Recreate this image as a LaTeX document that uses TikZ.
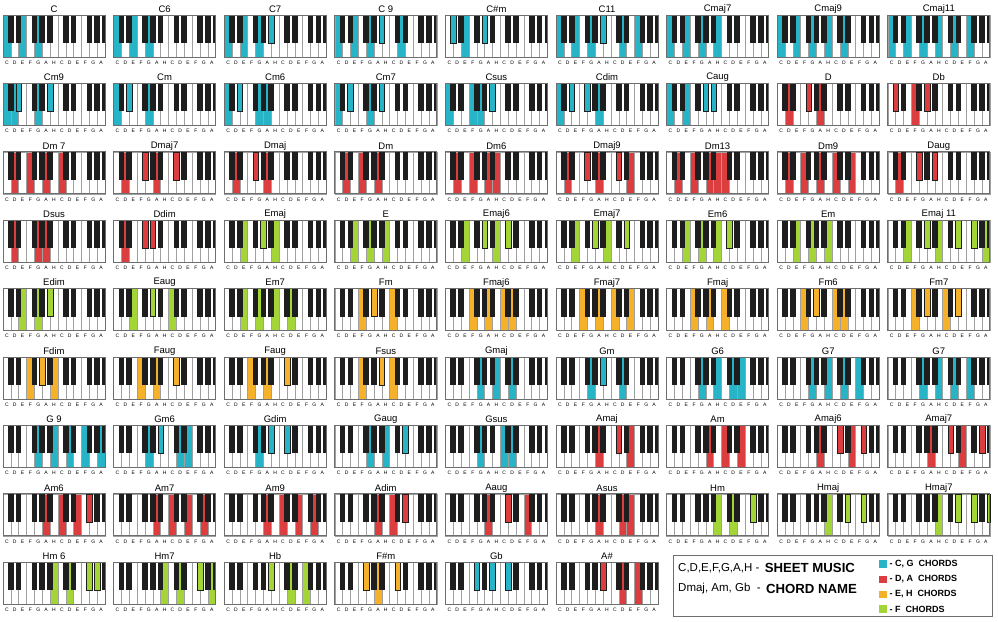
\documentclass[tikz,border=0pt]{standalone}
\usepackage{fontspec}
\setmainfont{Liberation Sans}
\usetikzlibrary{positioning}
\definecolor{keyteal}{HTML}{27B4C6}
\definecolor{keyred}{HTML}{DC3D3F}
\definecolor{keyorange}{HTML}{F6B12B}
\definecolor{keygreen}{HTML}{A3D536}
\definecolor{keyblack}{HTML}{1E1E1E}
\definecolor{keyline}{HTML}{A0A0A0}
\definecolor{frameline}{HTML}{6E6E6E}
\newcommand{\keyw}{7.846}
\tikzset{
  whitekey/.style={
    draw=keyline,
    line width=0.5pt,
    fill=white
  },
  blackkey/.style={
    fill=keyblack
  },
  litblack/.style={
    draw=keyblack,
    line width=0.4pt
  },
  keyframe/.style={
    draw=frameline,
    line width=0.7pt
  },
  chordname/.style={
    font=\fontsize{9.5}{10}\selectfont,
    inner sep=0pt
  },
  keyletter/.style={
    font=\fontsize{5}{6}\selectfont,
    inner sep=0pt
  },
  legendbox/.style={
    draw=frameline,
    line width=0.8pt
  },
  legendtext/.style={
    font=\fontsize{11.5}{13}\selectfont,
    inner sep=0pt,
    anchor=west
  },
  legendbold/.style={
    font=\fontsize{13.2}{15}\selectfont\bfseries,
    inner sep=0pt,
    anchor=west
  },
  swatch/.style={
    minimum size=7.5pt,
    inner sep=0pt
  },
  swatchtext/.style={
    font=\fontsize{9}{10}\selectfont\bfseries,
    inner sep=0pt,
    anchor=west
  }
}
% column, row, name, colour, white keys, black keys
\newcommand{\pianochord}[6]{%
  \begin{scope}[shift={(3+110.6*#1,15+68.4*#2)}]
    \node[chordname] (chord-#1-#2) at (51,-6) {#3};
    \foreach \k in {0,...,12}
      \draw[whitekey] (\k*\keyw,0) rectangle ++(\keyw,42);
    \foreach \k in {#5}
      \draw[whitekey, fill=#4] (\k*\keyw,0) rectangle ++(\keyw,42);
    \foreach \k in {0,1,3,4,5,7,8,10,11}
      \fill[blackkey] ({(\k+1)*\keyw-2.8},0) rectangle ++(5.6,28);
    \fill[blackkey] (102-2.8,0) rectangle (102,28);
    \foreach \k in {#6}{
      \pgfmathsetmacro\bw{\k==12 ? 2.8 : 5.6}
      \draw[litblack, fill=#4] ({(\k+1)*\keyw-2.8},0) rectangle ++(\bw,28);
    }
    \draw[keyframe] (0,0) rectangle (102,42);
    \foreach \l [count=\i from 0] in {C,D,E,F,G,A,H,C,D,E,F,G,A}
      \node[keyletter] (note-#1-#2-\i) at ({(\i+0.5)*\keyw},47.5) {\l};
  \end{scope}}

\begin{document}
\begin{tikzpicture}[x=1pt, y=-1pt]
  \useasboundingbox (0,0) rectangle (998,621);
  \fill[white] (0,0) rectangle (998,621);

  \pianochord{0}{0}{C}{keyteal}{0,2,4}{}
  \pianochord{1}{0}{C6}{keyteal}{0,2,4}{}
  \pianochord{2}{0}{C7}{keyteal}{0,2,4}{5}
  \pianochord{3}{0}{C 9}{keyteal}{0,2,4,8}{5}
  \pianochord{4}{0}{C\#m}{keyteal}{2}{0,4}
  \pianochord{5}{0}{C11}{keyteal}{0,2,4,8,10}{5}
  \pianochord{6}{0}{Cmaj7}{keyteal}{0,2,4,6}{}
  \pianochord{7}{0}{Cmaj9}{keyteal}{0,2,4,6,8}{}
  \pianochord{8}{0}{Cmaj11}{keyteal}{0,2,4,6,8,10}{}

  \pianochord{0}{1}{Cm9}{keyteal}{0,1,4}{1,5}
  \pianochord{1}{1}{Cm}{keyteal}{0,4}{1}
  \pianochord{2}{1}{Cm6}{keyteal}{0,4,5}{1}
  \pianochord{3}{1}{Cm7}{keyteal}{0,4}{1,5}
  \pianochord{4}{1}{Csus}{keyteal}{0,3,4}{5}
  \pianochord{5}{1}{Cdim}{keyteal}{0,5}{1,3}
  \pianochord{6}{1}{Caug}{keyteal}{0,2}{4,5}
  \pianochord{7}{1}{D}{keyred}{1,5}{3}
  \pianochord{8}{1}{Db}{keyred}{3}{0,4}

  \pianochord{0}{2}{Dm 7}{keyred}{1,3,5,7}{}
  \pianochord{1}{2}{Dmaj7}{keyred}{1,5}{3,7}
  \pianochord{2}{2}{Dmaj}{keyred}{1,5}{3}
  \pianochord{3}{2}{Dm}{keyred}{1,3,5}{}
  \pianochord{4}{2}{Dm6}{keyred}{1,3,5,6}{}
  \pianochord{5}{2}{Dmaj9}{keyred}{1,5,9}{3,7}
  \pianochord{6}{2}{Dm13}{keyred}{1,3,5,6,7}{}
  \pianochord{7}{2}{Dm9}{keyred}{1,3,5,7,9}{}
  \pianochord{8}{2}{Daug}{keyred}{1}{3,5}

  \pianochord{0}{3}{Dsus}{keyred}{1,4,5}{}
  \pianochord{1}{3}{Ddim}{keyred}{1}{3,4}
  \pianochord{2}{3}{Emaj}{keygreen}{2,6}{4}
  \pianochord{3}{3}{E}{keygreen}{2,4,6}{}
  \pianochord{4}{3}{Emaj6}{keygreen}{2,6}{4,7}
  \pianochord{5}{3}{Emaj7}{keygreen}{2,6}{4,8}
  \pianochord{6}{3}{Em6}{keygreen}{2,4,6}{7}
  \pianochord{7}{3}{Em}{keygreen}{2,4,6}{}
  \pianochord{8}{3}{Emaj 11}{keygreen}{2,6,12}{4,8,10}

  \pianochord{0}{4}{Edim}{keygreen}{2,4}{5}
  \pianochord{1}{4}{Eaug}{keygreen}{2,7}{4}
  \pianochord{2}{4}{Em7}{keygreen}{2,4,6,8}{}
  \pianochord{3}{4}{Fm}{keyorange}{3,7}{4}
  \pianochord{4}{4}{Fmaj6}{keyorange}{3,5,7,8}{}
  \pianochord{5}{4}{Fmaj7}{keyorange}{3,5,7,9}{}
  \pianochord{6}{4}{Fmaj}{keyorange}{3,5,7}{}
  \pianochord{7}{4}{Fm6}{keyorange}{3,7,8}{4}
  \pianochord{8}{4}{Fm7}{keyorange}{3,7}{4,8}

  \pianochord{0}{5}{Fdim}{keyorange}{3,6}{4}
  \pianochord{1}{5}{Faug}{keyorange}{3,5}{7}
  \pianochord{2}{5}{Faug}{keyorange}{3,5}{7}
  \pianochord{3}{5}{Fsus}{keyorange}{3,7}{5}
  \pianochord{4}{5}{Gmaj}{keyteal}{4,6,8}{}
  \pianochord{5}{5}{Gm}{keyteal}{4,8}{5}
  \pianochord{6}{5}{G6}{keyteal}{4,6,8,9}{}
  \pianochord{7}{5}{G7}{keyteal}{4,6,8,10}{}
  \pianochord{8}{5}{G7}{keyteal}{4,6,8,10}{}

  \pianochord{0}{6}{G 9}{keyteal}{4,6,8,10,12}{}
  \pianochord{1}{6}{Gm6}{keyteal}{4,8,9}{5}
  \pianochord{2}{6}{Gdim}{keyteal}{4}{5,7}
  \pianochord{3}{6}{Gaug}{keyteal}{4,6}{8}
  \pianochord{4}{6}{Gsus}{keyteal}{4,7,8}{}
  \pianochord{5}{6}{Amaj}{keyred}{5,9}{7}
  \pianochord{6}{6}{Am}{keyred}{5,7,9}{}
  \pianochord{7}{6}{Amaj6}{keyred}{5,9}{7,10}
  \pianochord{8}{6}{Amaj7}{keyred}{5,9}{7,11}

  \pianochord{0}{7}{Am6}{keyred}{5,7,9}{10}
  \pianochord{1}{7}{Am7}{keyred}{5,7,9,11}{}
  \pianochord{2}{7}{Am9}{keyred}{5,7,9,11}{}
  \pianochord{3}{7}{Adim}{keyred}{5,7}{8}
  \pianochord{4}{7}{Aaug}{keyred}{5,10}{7}
  \pianochord{5}{7}{Asus}{keyred}{5,8,9}{}
  \pianochord{6}{7}{Hm}{keygreen}{6,8}{10}
  \pianochord{7}{7}{Hmaj}{keygreen}{6}{8,10}
  \pianochord{8}{7}{Hmaj7}{keygreen}{6}{8,10,12}

  \pianochord{0}{8}{Hm 6}{keygreen}{6,8}{10,11}
  \pianochord{1}{8}{Hm7}{keygreen}{6,8,12}{10}
  \pianochord{2}{8}{Hb}{keygreen}{8,10}{5}
  \pianochord{3}{8}{F\#m}{keyorange}{5}{3,7}
  \pianochord{4}{8}{Gb}{keyteal}{}{3,5,7}
  \pianochord{5}{8}{A\#}{keyred}{8,10}{5}

  \draw[legendbox] (673,555) rectangle (992,616);
  \node[legendtext] (sheet) at (678,568) {C,D,E,F,G,A,H -};
  \node[legendbold, right=5pt of sheet] (sheetname) {SHEET MUSIC};
  \node[legendtext] (chord) at (678,589) {Dmaj, Am, Gb\ \ -};
  \node[legendbold, right=5pt of chord] (chordname) {CHORD NAME};
  \node[swatch, fill=keyteal] (sw-cg) at (883,564) {};
  \node[swatchtext, right=2.5pt of sw-cg] (txt-cg) {- C, G\ \ CHORDS};
  \node[swatch, fill=keyred] (sw-da) at (883,579.5) {};
  \node[swatchtext, right=2.5pt of sw-da] (txt-da) {- D, A\ \ CHORDS};
  \node[swatch, fill=keyorange] (sw-eh) at (883,594.5) {};
  \node[swatchtext, right=2.5pt of sw-eh] (txt-eh) {- E, H\ \ CHORDS};
  \node[swatch, fill=keygreen] (sw-f) at (883,609) {};
  \node[swatchtext, right=2.5pt of sw-f] (txt-f) {- F\ \ CHORDS};
\end{tikzpicture}
\end{document}
